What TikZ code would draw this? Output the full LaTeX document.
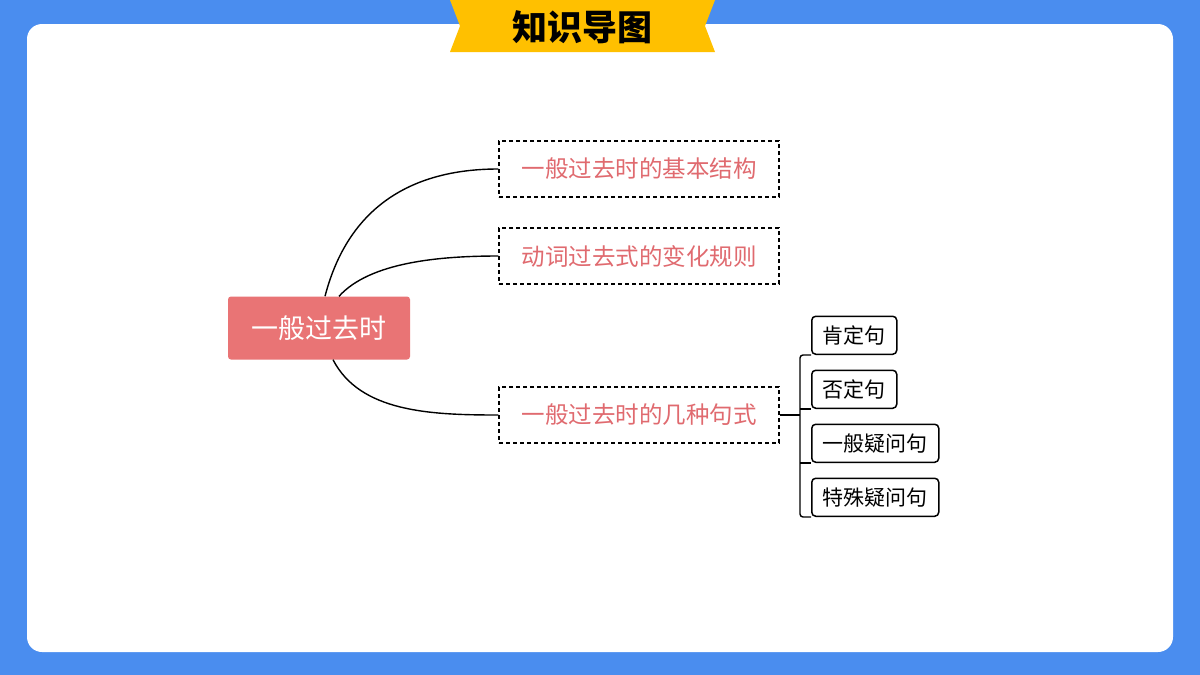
\documentclass[tikz,border=0pt]{standalone}
\usepackage{fontspec}
\setmainfont{Noto Sans CJK SC}
\usetikzlibrary{positioning}
\definecolor{bgblue}{HTML}{4A8DEF}
\definecolor{bannergold}{HTML}{FFC000}
\definecolor{rootred}{HTML}{E97475}
\definecolor{textred}{HTML}{E06A6F}

\begin{document}
\begin{tikzpicture}[x=1pt,y=-1pt]
  \tikzset{RootStyle/.style = {
    shape         = rectangle,
    rounded corners = 3pt,
    fill          = rootred,
    text          = white,
    font          = \fontsize{27}{27}\selectfont,
    minimum width = 182pt,
    minimum height = 63pt
    }
  }
  \tikzset{TopicStyle/.style = {
    shape         = rectangle,
    draw          = black,
    dash pattern  = on 4pt off 3pt,
    line width    = 1.4pt,
    text          = textred,
    font          = \fontsize{23.5}{23.5}\selectfont,
    minimum width = 280pt,
    minimum height = 56pt
    }
  }
  \tikzset{LeafStyle/.style = {
    shape         = rectangle,
    rounded corners = 4pt,
    draw          = black,
    line width    = 1.5pt,
    fill          = white,
    text          = black,
    font          = \fontsize{21}{21}\selectfont,
    anchor        = south west,
    inner xsep    = 11pt,
    minimum height = 38pt
    }
  }
  \tikzset{EdgeStyle/.style = {
    draw          = black,
    line width    = 1.4pt
    }
  }

  % background and card
  \fill[bgblue] (0,0) rectangle (1200,675);
  \fill[white, rounded corners=15pt] (27,24) rectangle (1173,652);
  \useasboundingbox (0,0) rectangle (1200,675);

  % title banner
  \fill[bannergold] (450,0) -- (715,0) -- (705,26) -- (715,52) -- (450,52) -- (460,26) -- cycle;
  \node[font=\fontsize{35}{35}\selectfont\bfseries](title) at (582,27) {知识导图};

  \node[RootStyle](root) at (319,328) {一般过去时};
  \node[TopicStyle](T1) at (639,169) {一般过去时的基本结构};
  \node[TopicStyle](T2) at (639,256) {动词过去式的变化规则};
  \node[TopicStyle](T3) at (639,415) {一般过去时的几种句式};

  \draw[EdgeStyle] (root.north) ++(6,0) .. controls (350,200) and (420,169) .. (T1.west);
  \draw[EdgeStyle] (root.north) ++(20,0) .. controls (370,262) and (440,256) .. (T2.west);
  \draw[EdgeStyle] (root.south) ++(14,0) .. controls (360,412) and (430,415) .. (T3.west);

  \node[LeafStyle](L1) at (811,355) {肯定句};
  \node[LeafStyle](L2) at (811,409) {否定句};
  \node[LeafStyle](L3) at (811,463) {一般疑问句};
  \node[LeafStyle](L4) at (811,517) {特殊疑问句};

  \coordinate (J) at (800,415);
  \draw[EdgeStyle] (T3.east) -- (J);
  \draw[EdgeStyle, rounded corners=3pt] (L1.south west) -- (800,355) -- (800,517) -- (L4.south west);
  \draw[EdgeStyle] (800,409) -- (L2.south west);
  \draw[EdgeStyle] (800,463) -- (L3.south west);
\end{tikzpicture}
\end{document}
